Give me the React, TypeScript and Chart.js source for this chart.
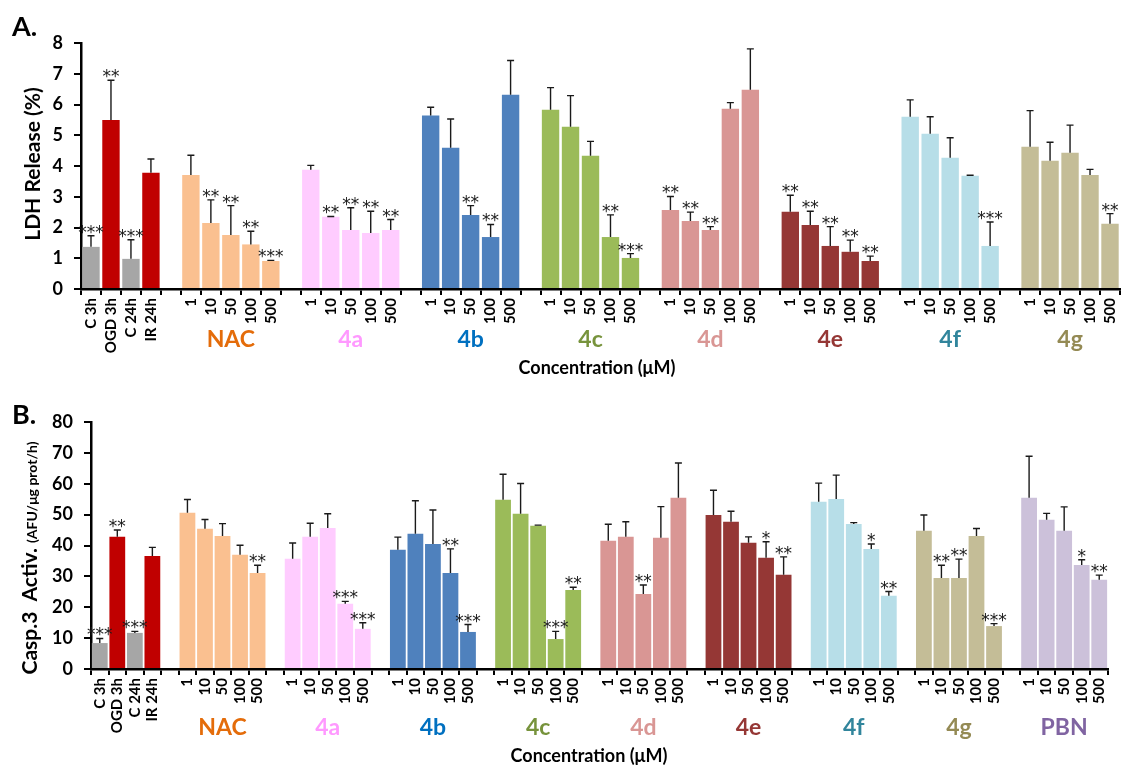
import React, { useEffect, useRef } from 'react';
import { Chart, registerables } from 'chart.js';

Chart.register(...registerables);

const FONT = 'Lato, "Open Sans", sans-serif';
const STAR_FONT = '"DejaVu Sans", sans-serif';

// ---- shared categories ----
const controlLabels = ['C 3h', 'OGD 3h', 'C 24h', 'IR 24h'];
const controlColors = ['#A6A6A6', '#C00000', '#A6A6A6', '#C00000'];
const concLabels = ['1', '10', '50', '100', '500'];
const groupNames = ['NAC', '4a', '4b', '4c', '4d', '4e', '4f', '4g', 'PBN'];
const groupBarColors = ['#FAC090', '#FFCCFF', '#4F81BD', '#9BBB59', '#D99694', '#953735', '#B7DEE8', '#C4BD97', '#CCC1DA'];
const groupLabelColors = ['#E46C0A', '#FF99FF', '#0070C0', '#77933C', '#D99694', '#953735', '#31859C', '#948A54', '#8064A2'];

// ---- Panel A: LDH release (%) ----
const ldhControls = [1.37, 5.5, 0.98, 3.78];
const ldhControlsErr = [0.36, 1.29, 0.62, 0.45];
const ldhControlsSig = ['***', '**', '***', ''];

const ldhNAC = [3.71, 2.15, 1.76, 1.45, 0.91];
const ldh4a = [3.88, 2.35, 1.92, 1.82, 1.92];
const ldh4b = [5.64, 4.59, 2.41, 1.69, 6.32];
const ldh4c = [5.83, 5.28, 4.33, 1.69, 1.01];
const ldh4d = [2.57, 2.21, 1.92, 5.86, 6.48];
const ldh4e = [2.51, 2.08, 1.4, 1.21, 0.91];
const ldh4f = [5.6, 5.05, 4.27, 3.68, 1.4];
const ldh4g = [4.63, 4.17, 4.43, 3.71, 2.12];

const ldhNACErr = [0.64, 0.75, 0.95, 0.43, 0.02];
const ldh4aErr = [0.14, 0.01, 0.72, 0.71, 0.34];
const ldh4bErr = [0.27, 0.94, 0.3, 0.41, 1.11];
const ldh4cErr = [0.72, 1.01, 0.47, 0.72, 0.14];
const ldh4dErr = [0.44, 0.29, 0.11, 0.2, 1.33];
const ldh4eErr = [0.54, 0.45, 0.63, 0.38, 0.16];
const ldh4fErr = [0.55, 0.55, 0.65, 0.02, 0.78];
const ldh4gErr = [1.17, 0.6, 0.9, 0.18, 0.33];

const ldhNACSig = ['', '**', '**', '**', '***'];
const ldh4aSig = ['', '**', '**', '**', '**'];
const ldh4bSig = ['', '', '**', '**', ''];
const ldh4cSig = ['', '', '', '**', '***'];
const ldh4dSig = ['**', '**', '**', '', ''];
const ldh4eSig = ['**', '**', '**', '**', '**'];
const ldh4fSig = ['', '', '', '', '***'];
const ldh4gSig = ['', '', '', '', '**'];

const ldhTicks = { min: 0, max: 8, step: 1 };

// ---- Panel B: Caspase-3 activity ----
const caspControls = [8.4, 42.8, 11.7, 36.6];
const caspControlsErr = [1.5, 2.2, 0.5, 2.8];
const caspControlsSig = ['***', '**', '***', ''];

const caspNAC = [50.6, 45.4, 43.1, 37.0, 31.1];
const casp4a = [35.7, 42.8, 45.7, 21.1, 13.0];
const casp4b = [38.6, 43.8, 40.5, 31.1, 12.0];
const casp4c = [54.8, 50.3, 46.4, 9.7, 25.6];
const casp4d = [41.5, 42.8, 24.3, 42.5, 55.5];
const casp4e = [49.9, 47.7, 40.9, 36.0, 30.5];
const casp4f = [54.2, 55.1, 47.0, 38.9, 23.7];
const casp4g = [44.8, 29.5, 29.5, 43.1, 13.9];
const caspPBN = [55.5, 48.3, 44.8, 33.7, 28.9];

const caspNACErr = [4.3, 3.0, 4.0, 3.1, 2.5];
const casp4aErr = [5.1, 4.4, 4.6, 0.8, 2.0];
const casp4bErr = [4.1, 10.7, 11.0, 7.8, 2.4];
const casp4cErr = [8.3, 9.8, 0.2, 2.5, 0.9];
const casp4dErr = [5.4, 4.9, 2.9, 10.1, 11.2];
const casp4eErr = [8.0, 3.4, 1.9, 5.2, 5.8];
const casp4fErr = [6.0, 7.7, 0.4, 1.6, 1.4];
const casp4gErr = [5.1, 4.1, 6.1, 2.4, 0.8];
const caspPBNErr = [13.4, 2.1, 7.7, 1.7, 1.5];

const caspNACSig = ['', '', '', '', '**'];
const casp4aSig = ['', '', '', '***', '***'];
const casp4bSig = ['', '', '', '**', '***'];
const casp4cSig = ['', '', '', '***', '**'];
const casp4dSig = ['', '', '**', '', ''];
const casp4eSig = ['', '', '', '*', '**'];
const casp4fSig = ['', '', '', '*', '**'];
const casp4gSig = ['', '**', '**', '', '***'];
const caspPBNSig = ['', '', '', '*', '**'];

const caspTicks = { min: 0, max: 80, step: 10 };

type Panel = {
  labels: string[];
  values: (number | null)[];
  errs: number[];
  sigs: string[];
  colors: string[];
  groups: { name: string; start: number; end: number; color: string }[];
};

function buildPanel(
  cVals: number[], cErr: number[], cSig: string[],
  gVals: number[][], gErr: number[][], gSig: string[][]
): Panel {
  const p: Panel = { labels: [], values: [], errs: [], sigs: [], colors: [], groups: [] };
  cVals.forEach((v, i) => {
    p.labels.push(controlLabels[i]);
    p.values.push(v);
    p.errs.push(cErr[i]);
    p.sigs.push(cSig[i]);
    p.colors.push(controlColors[i]);
  });
  gVals.forEach((vals, g) => {
    p.labels.push('');
    p.values.push(null);
    p.errs.push(0);
    p.sigs.push('');
    p.colors.push('rgba(0,0,0,0)');
    const start = p.labels.length;
    vals.forEach((v, i) => {
      p.labels.push(concLabels[i]);
      p.values.push(v);
      p.errs.push(gErr[g][i]);
      p.sigs.push(gSig[g][i]);
      p.colors.push(groupBarColors[g]);
    });
    p.groups.push({ name: groupNames[g], start, end: p.labels.length - 1, color: groupLabelColors[g] });
  });
  return p;
}

const panelA = buildPanel(
  ldhControls, ldhControlsErr, ldhControlsSig,
  [ldhNAC, ldh4a, ldh4b, ldh4c, ldh4d, ldh4e, ldh4f, ldh4g],
  [ldhNACErr, ldh4aErr, ldh4bErr, ldh4cErr, ldh4dErr, ldh4eErr, ldh4fErr, ldh4gErr],
  [ldhNACSig, ldh4aSig, ldh4bSig, ldh4cSig, ldh4dSig, ldh4eSig, ldh4fSig, ldh4gSig]
);

const panelB = buildPanel(
  caspControls, caspControlsErr, caspControlsSig,
  [caspNAC, casp4a, casp4b, casp4c, casp4d, casp4e, casp4f, casp4g, caspPBN],
  [caspNACErr, casp4aErr, casp4bErr, casp4cErr, casp4dErr, casp4eErr, casp4fErr, casp4gErr, caspPBNErr],
  [caspNACSig, casp4aSig, casp4bSig, casp4cSig, casp4dSig, casp4eSig, casp4fSig, casp4gSig, caspPBNSig]
);

type Layout = {
  width: number;
  height: number;
  yWidth: number;
  xHeight: number;
  padTop: number;
  padRight: number;
  barPct: number;
  letter: string;
  letterY: number;
  groupLabelY: number;
  axisTitleX: number;
  axisTitleY: number;
  yTitleCenterY: number;
  yTitleBaseX: number;
  yTitle: { text: string; size: number }[];
};

function makeConfig(p: Panel, t: { min: number; max: number; step: number }, L: Layout): any {
  const overlay = {
    id: 'overlay',
    afterDraw(chart: any) {
      const ctx = chart.ctx as CanvasRenderingContext2D;
      const xs = chart.scales.x;
      const ys = chart.scales.y;
      const meta = chart.getDatasetMeta(0);
      ctx.save();
      // error bars (upper only) and significance stars
      ctx.strokeStyle = '#1a1a1a';
      ctx.lineWidth = 1.4;
      ctx.fillStyle = '#1a1a1a';
      ctx.font = `17px ${STAR_FONT}`;
      ctx.textAlign = 'center';
      ctx.textBaseline = 'alphabetic';
      p.values.forEach((v, i) => {
        if (v == null) return;
        const bx = meta.data[i].x;
        const y0 = ys.getPixelForValue(v);
        const y1 = ys.getPixelForValue(v + p.errs[i]);
        ctx.beginPath();
        ctx.moveTo(bx, y0);
        ctx.lineTo(bx, y1);
        ctx.moveTo(bx - 3.5, y1);
        ctx.lineTo(bx + 3.5, y1);
        ctx.stroke();
        if (p.sigs[i]) ctx.fillText(p.sigs[i], bx, y1 + 2);
      });
      // group labels
      ctx.font = `bold 23px ${FONT}`;
      ctx.textBaseline = 'middle';
      p.groups.forEach((g) => {
        const cx = (xs.getPixelForValue(g.start) + xs.getPixelForValue(g.end)) / 2;
        ctx.fillStyle = g.color;
        ctx.fillText(g.name, cx, L.groupLabelY);
      });
      // axis title
      ctx.fillStyle = '#000';
      ctx.font = `bold 18px ${FONT}`;
      ctx.fillText('Concentration (\u03BCM)', L.axisTitleX, L.axisTitleY);
      // panel letter
      ctx.font = `bold 27px ${FONT}`;
      ctx.textAlign = 'left';
      ctx.textBaseline = 'middle';
      ctx.fillText(L.letter, 12, L.letterY);
      // y title (rotated, possibly mixed sizes)
      ctx.translate(L.yTitleBaseX, L.yTitleCenterY);
      ctx.rotate(-Math.PI / 2);
      ctx.textBaseline = 'alphabetic';
      let total = 0;
      const widths = L.yTitle.map((s) => {
        ctx.font = `bold ${s.size}px ${FONT}`;
        const w = ctx.measureText(s.text).width;
        total += w;
        return w;
      });
      let x = -total / 2;
      L.yTitle.forEach((s, i) => {
        ctx.font = `bold ${s.size}px ${FONT}`;
        ctx.fillText(s.text, x, 0);
        x += widths[i];
      });
      ctx.restore();
    },
  };

  return {
    type: 'bar',
    data: {
      labels: p.labels,
      datasets: [
        {
          data: p.values,
          backgroundColor: p.colors,
          borderWidth: 0,
          barPercentage: L.barPct,
          categoryPercentage: 1,
        },
      ],
    },
    options: {
      responsive: false,
      animation: false,
      devicePixelRatio: 1,
      layout: { padding: { top: L.padTop, right: L.padRight, left: 0, bottom: 0 } },
      plugins: { legend: { display: false }, tooltip: { enabled: false }, title: { display: false } },
      scales: {
        x: {
          type: 'category',
          offset: true,
          grid: { offset: true, drawOnChartArea: false, drawTicks: true, tickLength: 6, color: '#000', lineWidth: 2 },
          border: { display: true, color: '#000', width: 2.5 },
          ticks: {
            autoSkip: false,
            maxRotation: 90,
            minRotation: 90,
            padding: 3,
            color: '#000',
            font: { family: FONT, size: 15, weight: 'bold' },
          },
          afterFit: (s: any) => {
            s.height = L.xHeight;
          },
        },
        y: {
          min: t.min,
          max: t.max,
          grid: { drawOnChartArea: false, drawTicks: true, tickLength: 7, color: '#000', lineWidth: 2 },
          border: { display: true, color: '#000', width: 2.5 },
          ticks: {
            stepSize: t.step,
            padding: 11,
            color: '#000',
            font: { family: FONT, size: 18, weight: 'bold' },
          },
          afterFit: (s: any) => {
            s.width = L.yWidth;
          },
        },
      },
    },
    plugins: [overlay],
  };
}

const layoutA: Layout = {
  width: 1131,
  height: 380,
  yWidth: 81,
  xHeight: 91,
  padTop: 43,
  padRight: 0,
  barPct: 0.87,
  letter: 'A.',
  letterY: 27,
  groupLabelY: 340,
  axisTitleX: 597,
  axisTitleY: 368,
  yTitleCenterY: 164,
  yTitleBaseX: 40,
  yTitle: [{ text: 'LDH Release (%)', size: 21 }],
};

const layoutB: Layout = {
  width: 1127,
  height: 385,
  yWidth: 91,
  xHeight: 96,
  padTop: 42,
  padRight: 19,
  barPct: 0.9,
  letter: 'B.',
  letterY: 35,
  groupLabelY: 348,
  axisTitleX: 589,
  axisTitleY: 376,
  yTitleCenterY: 178,
  yTitleBaseX: 37,
  yTitle: [
    { text: 'Casp.3  Activ. ', size: 21 },
    { text: '(AFU/\u03BCg prot/h)', size: 14 },
  ],
};

function ChartPanel({ panel, ticks, layout, top }: { panel: Panel; ticks: any; layout: Layout; top: number }) {
  const ref = useRef<HTMLCanvasElement | null>(null);
  useEffect(() => {
    if (!ref.current) return;
    const chart = new Chart(ref.current, makeConfig(panel, ticks, layout));
    return () => chart.destroy();
  }, []);
  return (
    <canvas
      ref={ref}
      width={layout.width}
      height={layout.height}
      style={{ position: 'absolute', left: 0, top, width: layout.width, height: layout.height }}
    />
  );
}

export default function App() {
  return (
    <div
      style={{
        position: 'absolute',
        left: 0,
        top: 0,
        width: 1127,
        height: 765,
        overflow: 'hidden',
        background: '#fff',
      }}
    >
      <ChartPanel panel={panelA} ticks={ldhTicks} layout={layoutA} top={0} />
      <ChartPanel panel={panelB} ticks={caspTicks} layout={layoutB} top={380} />
    </div>
  );
}
